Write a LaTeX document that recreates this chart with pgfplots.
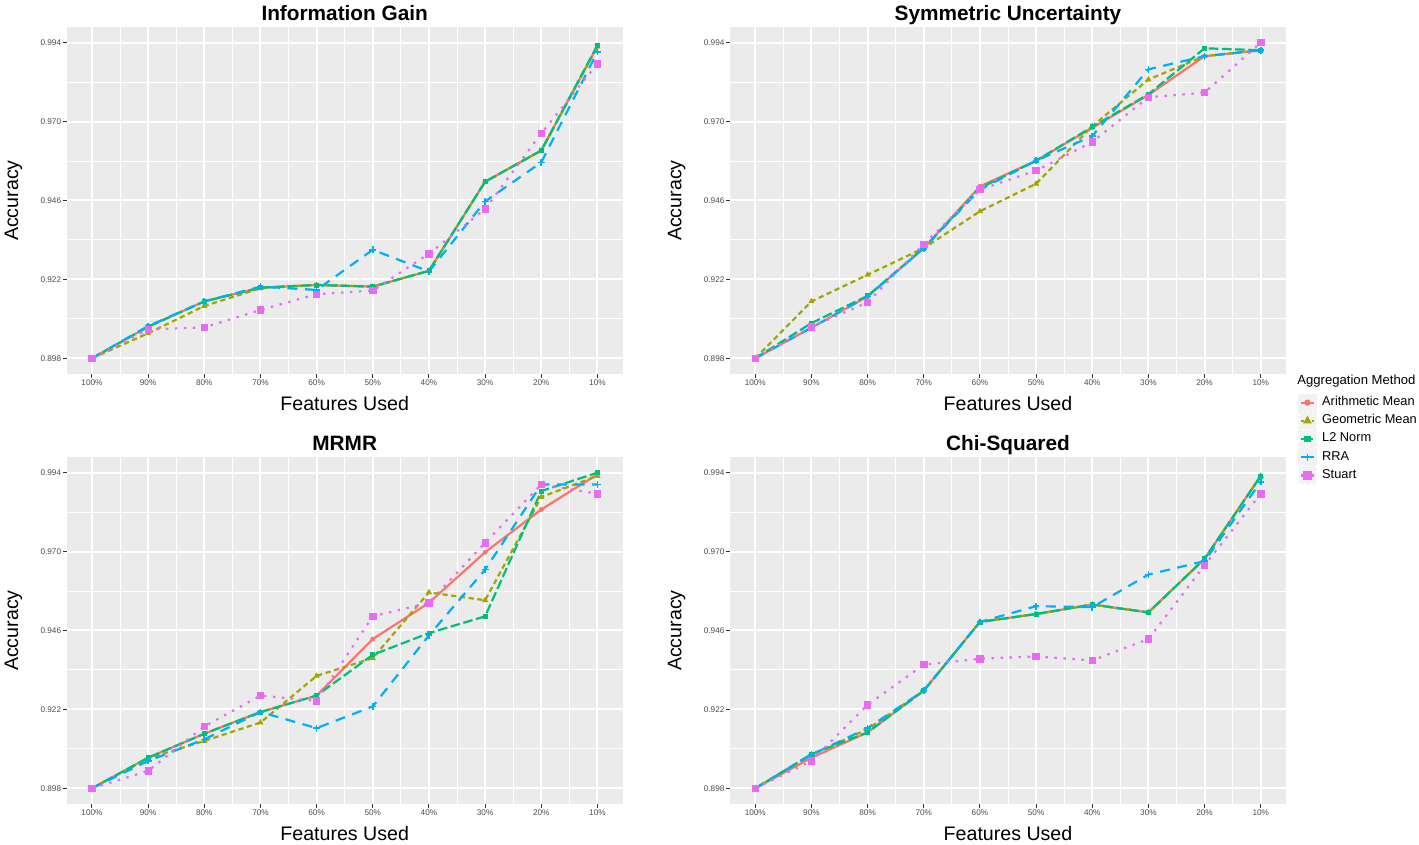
\documentclass[border=0pt]{standalone}
\usepackage{fontspec}
\setmainfont{Liberation Sans}
\usepackage{pgfplots}
\usepackage{pgfplotstable}
\pgfplotsset{compat=1.18}

\definecolor{cAM}{HTML}{F8766D}
\definecolor{cGM}{HTML}{A3A500}
\definecolor{cL2}{HTML}{00BF7D}
\definecolor{cRRA}{HTML}{00B0F6}
\definecolor{cST}{HTML}{E76BF3}
\definecolor{panelbg}{HTML}{EBEBEB}
\definecolor{keybg}{HTML}{F2F2F2}
\definecolor{tickc}{HTML}{333333}
\definecolor{ticklab}{HTML}{4D4D4D}

% x: 0=100%, 1=90%, ..., 9=10%
\pgfplotstableread{
x AM GM L2 RRA ST
0 0.8980 0.8980 0.8980 0.8980 0.8980
1 0.9076 0.9056 0.9076 0.9078 0.9068
2 0.9153 0.9139 0.9153 0.9153 0.9074
3 0.9195 0.9193 0.9195 0.9198 0.9127
4 0.9203 0.9203 0.9203 0.9188 0.9175
5 0.9198 0.9198 0.9198 0.9310 0.9186
6 0.9246 0.9246 0.9246 0.9244 0.9298
7 0.9517 0.9517 0.9517 0.9457 0.9434
8 0.9612 0.9612 0.9612 0.9576 0.9664
9 0.9930 0.9928 0.9932 0.9912 0.9876
}\tIG

\pgfplotstableread{
x AM GM L2 RRA ST
0 0.8980 0.8980 0.8980 0.8980 0.8980
1 0.9073 0.9153 0.9087 0.9073 0.9076
2 0.9168 0.9234 0.9170 0.9168 0.9150
3 0.9315 0.9315 0.9315 0.9315 0.9327
4 0.9503 0.9427 0.9498 0.9493 0.9493
5 0.9581 0.9511 0.9581 0.9581 0.9551
6 0.9681 0.9686 0.9684 0.9656 0.9638
7 0.9781 0.9828 0.9783 0.9859 0.9774
8 0.9899 0.9899 0.9923 0.9899 0.9788
9 0.9917 0.9917 0.9917 0.9917 0.9940
}\tSU

\pgfplotstableread{
x AM GM L2 RRA ST
0 0.8980 0.8980 0.8980 0.8980 0.8980
1 0.9073 0.9071 0.9073 0.9063 0.9033
2 0.9146 0.9124 0.9146 0.9129 0.9168
3 0.9212 0.9180 0.9212 0.9212 0.9262
4 0.9262 0.9322 0.9262 0.9163 0.9246
5 0.9434 0.9376 0.9386 0.9229 0.9503
6 0.9544 0.9576 0.9452 0.9445 0.9544
7 0.9698 0.9552 0.9503 0.9645 0.9727
8 0.9828 0.9866 0.9884 0.9904 0.9904
9 0.9935 0.9930 0.9940 0.9904 0.9876
}\tMR

\pgfplotstableread{
x AM GM L2 RRA ST
0 0.8980 0.8980 0.8980 0.8980 0.8980
1 0.9073 0.9082 0.9084 0.9082 0.9063
2 0.9150 0.9160 0.9150 0.9163 0.9234
3 0.9277 0.9277 0.9277 0.9277 0.9356
4 0.9486 0.9486 0.9486 0.9486 0.9374
5 0.9510 0.9510 0.9510 0.9534 0.9381
6 0.9539 0.9539 0.9539 0.9531 0.9369
7 0.9515 0.9515 0.9515 0.9630 0.9434
8 0.9678 0.9678 0.9678 0.9671 0.9658
9 0.9930 0.9930 0.9930 0.9912 0.9876
}\tCS

\pgfplotsset{
  lAM/.style={cAM, line width=1.1pt, solid, mark=none},
  lGM/.style={cGM, line width=1.1pt, dash pattern=on 2.6pt off 1.8pt, mark=none},
  lL2/.style={cL2, line width=1.1pt, dash pattern=on 4.8pt off 1.8pt, mark=none},
  lRRA/.style={cRRA, line width=1.1pt, dash pattern=on 5pt off 3.8pt, mark=none},
  lST/.style={cST, line width=1.1pt, dash pattern=on 1.2pt off 3.3pt, mark=none},
  mAM/.style={cAM, only marks, mark=*, mark size=1pt, mark options={solid}},
  mGM/.style={cGM, only marks, mark=triangle*, mark size=1.4pt, mark options={solid}},
  mL2/.style={cL2, only marks, mark=square*, mark size=1pt, mark options={solid}},
  mRRA/.style={cRRA, only marks, mark=+, mark size=1.7pt, mark options={solid, line width=0.8pt}},
  mST/.style={cST, only marks, mark=square*, mark size=1.6pt, mark options={solid}},
  panel/.style={
    scale only axis, width=278pt, height=173.35pt,
    xmin=-0.45, xmax=9.45, ymin=0.89322, ymax=0.99868,
    xtick={0,1,2,3,4,5,6,7,8,9},
    xticklabels={100\%,90\%,80\%,70\%,60\%,50\%,40\%,30\%,20\%,10\%},
    minor xtick={0.5,1.5,2.5,3.5,4.5,5.5,6.5,7.5,8.5},
    ytick={0.898,0.922,0.946,0.970,0.994},
    yticklabels={0.898,0.922,0.946,0.970,0.994},
    minor ytick={0.910,0.934,0.958,0.982},
    scaled y ticks=false,
    grid=both,
    major grid style={white, line width=1pt},
    minor grid style={white, line width=0.5pt},
    axis background/.style={fill=panelbg},
    axis line style={draw=none},
    tick align=outside, tick pos=left,
    major tick length=2pt, minor tick length=0pt,
    every tick/.style={tickc, line width=0.5pt},
    tick label style={font=\fontsize{4.1}{5}\selectfont, text=ticklab},
    yticklabel style={inner sep=0.6pt},
    xticklabel style={inner sep=0.6pt},
    every axis title shift=0pt,
    title style={font=\fontsize{10.4}{12}\selectfont\bfseries, at={(axis description cs:0.5,1.021)}, anchor=base, yshift=0pt, inner sep=0pt},
    xlabel style={font=\fontsize{9.8}{11}\selectfont, at={(axis description cs:0.5,-0.104)}, anchor=base, inner sep=0pt},
    ylabel style={font=\fontsize{9.8}{11}\selectfont, at={(axis description cs:-0.0874,0.5)}, anchor=base, inner sep=0pt},
    xlabel={Features Used}, ylabel={Accuracy},
    anchor=north west,
  },
}

\newcommand{\drawpanel}[1]{%
  \addplot[lAM, forget plot] table[x=x,y=AM]{#1};
  \addplot[lGM, forget plot] table[x=x,y=GM]{#1};
  \addplot[lL2, forget plot] table[x=x,y=L2]{#1};
  \addplot[lRRA, forget plot] table[x=x,y=RRA]{#1};
  \addplot[lST, forget plot] table[x=x,y=ST]{#1};
  \addplot[mAM, forget plot] table[x=x,y=AM]{#1};
  \addplot[mGM, forget plot] table[x=x,y=GM]{#1};
  \addplot[mL2, forget plot] table[x=x,y=L2]{#1};
  \addplot[mRRA, forget plot] table[x=x,y=RRA]{#1};
  \addplot[mST, forget plot] table[x=x,y=ST]{#1};
}

\begin{document}
\begin{tikzpicture}
\path[use as bounding box] (0pt,0pt) rectangle (709.5pt,-422.5pt);

\begin{axis}[panel, at={(33.35pt,-13.65pt)}, title={Information Gain}]
\drawpanel{\tIG}
\end{axis}

\begin{axis}[panel, at={(365pt,-13.65pt)}, title={Symmetric Uncertainty},
  legend style={at={(axis description cs:1.0223,-0.05625)}, anchor=north west,
    draw=none, fill=none, inner sep=0pt, outer sep=0pt, row sep=0pt,
    font=\fontsize{6.4}{7}\selectfont, nodes={inner sep=0.5pt},
    /tikz/every odd column/.append style={column sep=2.3pt}},
  legend cell align=left,
  legend image code/.code={%
    \fill[keybg] (0pt,-4pt) rectangle (8pt,4pt);
    \draw[mark repeat=2, mark phase=2, #1] plot coordinates {(0.8pt,0pt) (4pt,0pt) (7.2pt,0pt)};}]
\drawpanel{\tSU}
\addlegendimage{cAM, line width=1.1pt, solid, mark=*, mark size=1pt}
\addlegendentry{Arithmetic Mean}
\addlegendimage{cGM, line width=1.1pt, dash pattern=on 1.4pt off 1.2pt, mark=triangle*, mark size=1.4pt, mark options={solid}}
\addlegendentry{Geometric Mean}
\addlegendimage{cL2, line width=1.1pt, dash pattern=on 2.4pt off 1.2pt, mark=square*, mark size=1pt, mark options={solid}}
\addlegendentry{L2 Norm}
\addlegendimage{cRRA, line width=1.1pt, solid, mark=+, mark size=1.7pt, mark options={solid, line width=0.8pt}}
\addlegendentry{RRA}
\addlegendimage{cST, line width=1.1pt, dash pattern=on 1.1pt off 1.6pt, mark=square*, mark size=1.6pt, mark options={solid}}
\addlegendentry{Stuart}
\end{axis}

\begin{axis}[panel, at={(33.35pt,-228.65pt)}, title={MRMR}]
\drawpanel{\tMR}
\end{axis}

\begin{axis}[panel, at={(365pt,-228.65pt)}, title={Chi-Squared}]
\drawpanel{\tCS}
\end{axis}

\node[anchor=base west, font=\fontsize{6.55}{7}\selectfont, inner sep=0pt] at (648.5pt,-192.15pt) {Aggregation Method};
\end{tikzpicture}
\end{document}
